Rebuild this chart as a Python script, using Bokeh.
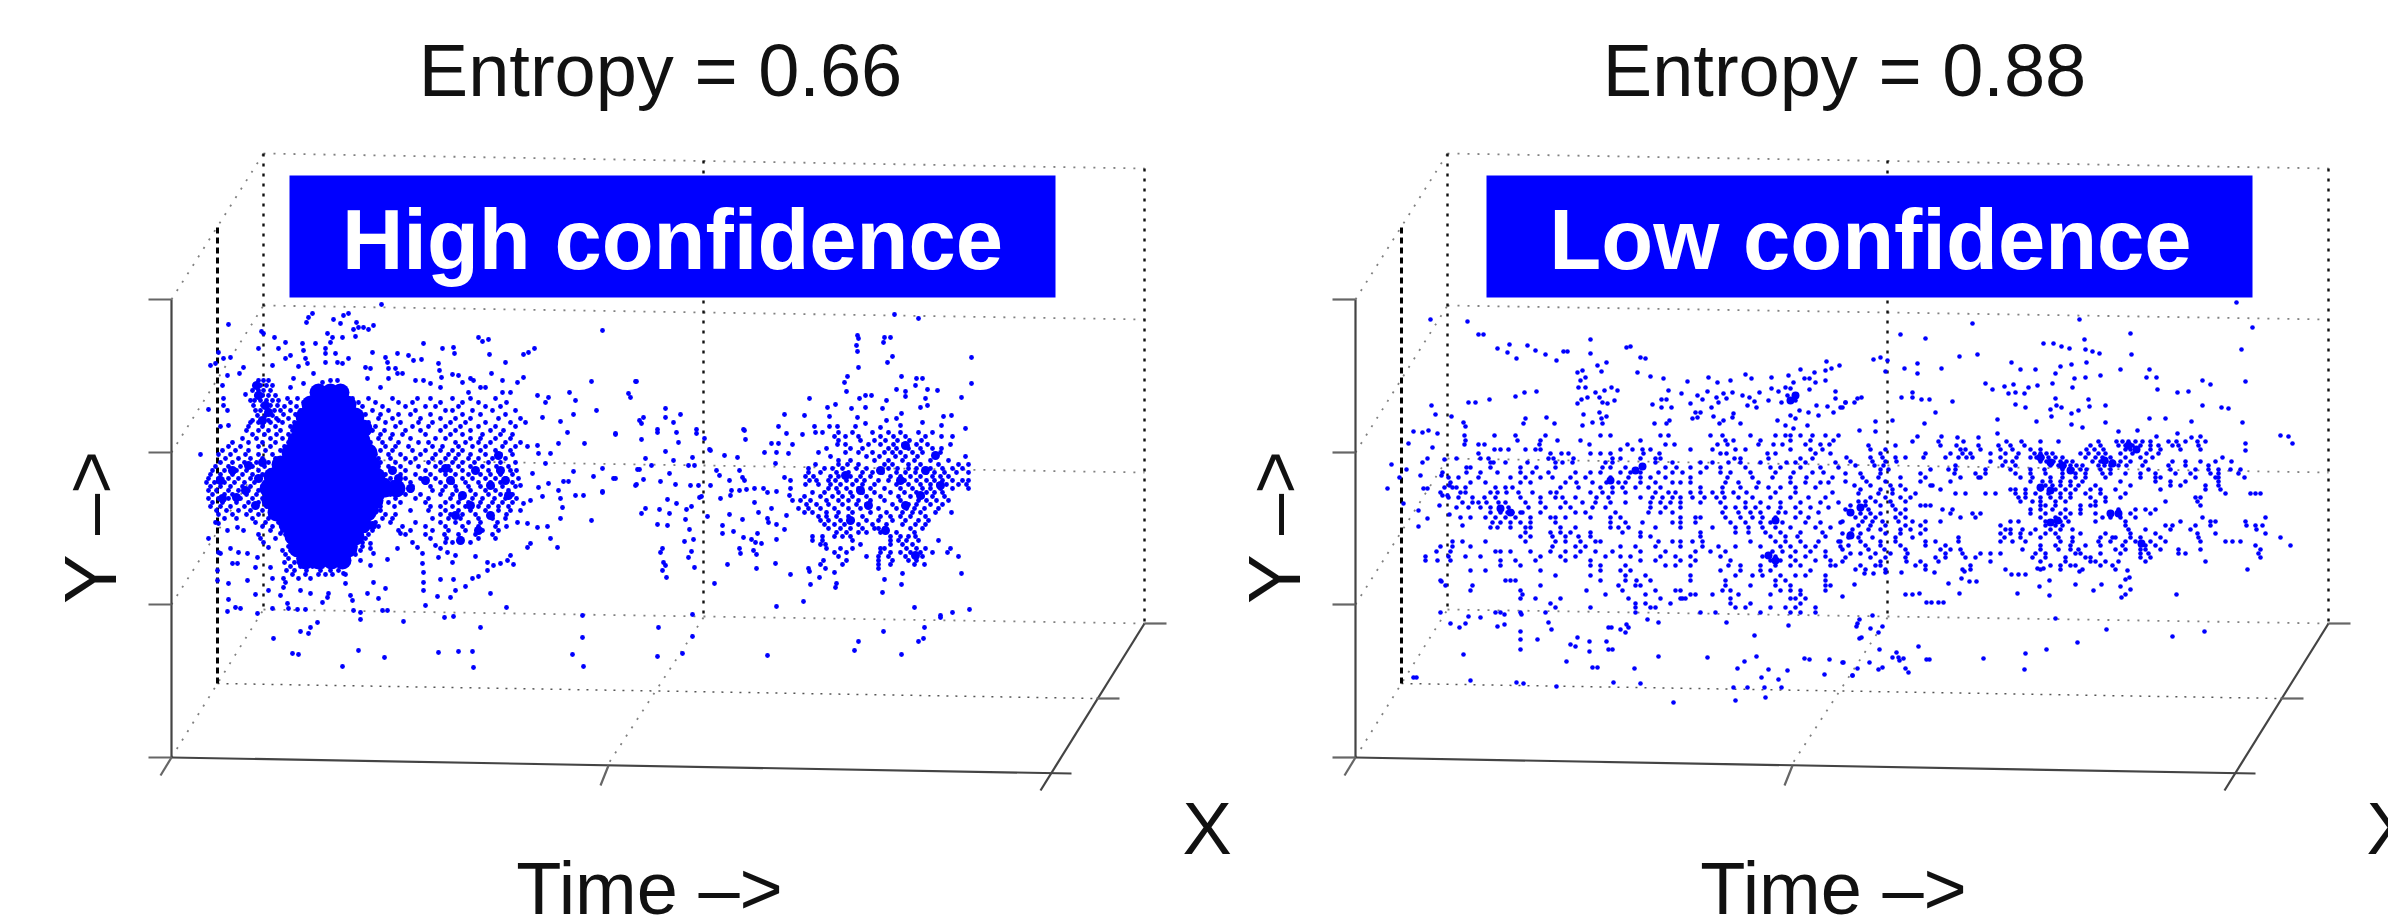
from bokeh.plotting import figure
from bokeh.models import Range1d
from bokeh.core.properties import value
from bokeh.embed import file_html
from bokeh.resources import INLINE
import math

titles = ["Entropy = 0.66", "Entropy = 0.88"]
banners = ["High confidence", "Low confidence"]

# points (picture units); (x, y) pairs
left_pairs = [(381,304),(312,313),(348,313),(343,315),(308,317),(333,319),(306,322),(356,322),(340,323),(228,324),(373,325),(358,327),(363,327),(353,329),(368,329),(602,330),(261,331),(263,333),(327,333),(355,336),(274,337),(332,337),(342,337),(478,337),(488,339),(482,341),(285,342),(302,343),(330,342),(315,343),(423,343),(453,347),(258,348),(278,348),(325,348),(442,348),(534,348),(303,350),(218,352),(372,352),(528,352),(290,355),(325,353),(335,353),(397,353),(454,353),(489,354),(523,354),(408,355),(230,357),(385,357),(223,358),(285,358),(305,358),(348,358),(421,359),(413,360),(325,362),(337,362),(387,362),(505,362),(215,363),(307,363),(342,363),(438,363),(210,365),(272,365),(298,366),(243,367),(365,367),(370,368),(388,368),(395,368),(439,370),(239,373),(313,373),(397,373),(402,373),(491,373),(452,374),(227,375),(458,375),(441,377),(293,378),(367,378),(388,378),(470,378),(523,377),(330,380),(337,380),(415,380),(423,380),(473,380),(502,380),(303,383),(430,383),(322,382),(462,382),(517,382),(290,387),(380,387),(440,387),(480,387),(485,387),(468,392),(502,392),(510,392),(537,395),(548,397),(545,402),(569,392),(575,400),(591,381),(635,381),(628,393),(630,397),(596,410),(573,414),(542,417),(560,421),(639,420),(222,385),(245,394),(223,398),(208,409),(223,405),(227,410),(228,425),(220,426),
(258,380),(263,380),(268,380),(255,385),(260,385),(266,385),(272,385),(252,390),(258,390),(263,390),(270,390),(256,395),(262,395),(268,395),(275,395),(250,400),(254,400),(260,400),(266,400),(272,400),(278,400),(253,405),(262,405),(270,405),(277,405),(255,410),(260,410),(268,410),(274,410),(257,415),(265,415),(272,415),(252,420),(260,420),(268,420),(278,420),
(208,538),(218,523),(227,530),(237,527),(243,530),(230,548),(238,552),(247,553),(257,557),(218,552),(220,553),(263,542),(268,547),(260,538),(280,533),(283,518),(232,563),(237,563),(255,567),(270,567),(217,570),(217,580),(228,583),(247,580),(272,578),(268,590),(255,594),(228,599),(235,607),(240,608),(227,611),(257,613),(272,608),(283,587),(280,595),(287,603),(300,590),(310,593),(328,593),(327,597),(345,583),(350,595),(322,602),(352,600),(288,608),(297,609),(305,609),(353,610),(360,612),(382,610),(387,610),(360,619),(403,621),(425,605),(444,617),(453,616),(480,627),(506,607),(317,622),(310,627),(300,631),(308,633),(273,638),(292,653),(298,654),(358,650),(384,657),(342,666),(438,652),(458,651),(472,651),(473,667),(572,654),(582,637),(583,666),(582,615),
(370,543),(373,553),(370,548),(387,559),(397,548),(400,533),(412,542),(417,547),(422,553),(422,563),(423,572),(423,582),(423,590),(437,596),(440,579),(453,579),(455,590),(450,597),(465,586),(490,593),(472,578),(478,576),(487,570),(493,565),(500,563),(507,560),(513,564),(510,555),(373,582),(367,593),(385,588),(378,598),(370,565),(360,560),(343,573),(435,545),(440,548),(447,552),(455,555),(438,557),(452,562),(475,556),(487,562),(527,547),(530,543),(550,538),(557,547),(537,527),(547,526),(527,523),(517,522),
(615,433),(584,443),(567,432),(558,443),(573,471),(593,476),(613,478),(602,492),(575,495),(583,495),(562,507),(560,518),(591,520),(560,498),(558,490),(563,481),(568,481),(548,483),(538,487),(532,473),(545,463),(537,445),(527,446),(550,453),(538,453),(520,485),(635,485),(637,469),(542,496),(530,500),(520,510),(523,503),
(636,381),(665,408),(680,414),(665,417),(643,417),(641,423),(673,422),(657,429),(696,429),(857,335),(858,338),(856,345),(857,351),(884,337),(890,337),(883,342),(892,356),(887,362),(858,367),(971,357),(901,376),(916,378),(922,378),(915,385),(847,376),(844,382),(846,391),(971,383),(927,389),(937,390),(896,389),(905,391),(905,396),(809,398),(961,397),(859,398),(865,395),(871,395),(886,400),(925,398),(827,407),(835,404),(851,408),(865,407),(882,408),(920,407),(927,405),(784,414),(804,415),(829,416),(857,417),(901,413),(943,416),(951,415),(886,420),(896,418),(922,422),(778,426),(814,426),(829,426),(837,426),(855,426),(865,423),(880,427),(900,425),(941,425),(965,428),(743,429),(894,314),(918,318),
(615,434),(641,439),(657,432),(676,432),(678,442),(696,433),(704,438),(710,450),(665,451),(645,458),(651,465),(639,469),(673,460),(688,465),(694,465),(692,457),(615,478),(602,468),(643,479),(636,484),(660,481),(669,473),(675,484),(690,485),(698,485),(710,485),(701,496),(699,497),(667,499),(676,503),(602,491),(645,508),(641,513),(659,509),(669,513),(686,509),(691,506),(685,519),(657,524),(667,525),(689,529),(684,541),(693,539),(662,548),(660,552),(691,551),(688,557),(663,562),(665,565),(662,570),(694,567),(666,577),(692,614),(658,627),(692,636),(657,656),(682,653),(767,655),
(709,449),(724,455),(737,457),(744,430),(745,439),(716,470),(719,475),(739,470),(742,477),(744,480),(729,480),(731,490),(730,495),(739,490),(746,489),(754,488),(763,488),(767,492),(776,491),(720,498),(707,516),(754,502),(729,514),(742,519),(758,512),(771,508),(767,518),(768,522),(776,524),(786,515),(722,525),(733,531),(722,533),(757,533),(743,537),(751,539),(755,542),(761,543),(776,539),(784,529),(739,548),(740,553),(753,550),(756,554),(727,564),(756,568),(775,563),(714,583),(776,606),(786,433),(764,452),(776,452),(771,443),(778,443),(792,444),(788,453),(775,463),(784,477),(790,480),(790,488),(789,495),(792,500),(802,434),
(790,574),(809,571),(819,577),(834,572),(810,584),(836,583),(835,587),(884,579),(902,573),(901,584),(882,592),(961,573),(803,601),(914,607),(969,609),(952,612),(940,615),(940,617),(924,627),(883,631),(858,641),(854,650),(923,638),(918,641),(901,654)]

# same points, grouped by row: (y, [x, ...])
left_rows = [
(398,[287,297,352,368,392,417,430,452,470,495]),(402,[290,303,358,375,398,412,440,462,478,506]),(406,[284,296,350,362,382,405,425,435,458,485,500]),(410,[280,290,300,355,372,388,415,445,452,472,492,515]),(414,[283,295,352,365,380,398,410,430,462,480,505]),(418,[276,288,298,360,378,392,420,440,455,470,498,520]),(422,[250,258,270,282,294,355,368,385,400,418,432,450,465,485,510,525]),(426,[248,262,275,290,300,362,375,395,412,428,445,460,478,495,515]),(430,[246,258,268,280,292,358,372,384,405,420,440,455,470,490,503]),(434,[252,264,276,288,362,380,392,402,425,450,462,482,500,512]),(438,[242,256,270,282,295,365,378,390,410,435,445,470,480,495,510]),(442,[232,248,262,275,288,370,382,398,418,428,455,465,478,490,505,520]),(446,[228,240,258,270,284,368,385,395,408,432,442,458,472,485,502,515]),(450,[222,235,248,265,280,372,380,392,412,425,440,452,462,480,495,510]),(454,[200,218,230,245,258,272,285,375,388,400,420,435,448,458,470,485,500,512]),(458,[225,238,250,262,275,282,378,390,405,415,432,445,455,468,478,492,505]),(462,[220,232,244,256,268,280,380,395,410,428,440,452,462,474,488,500,515]),(466,[215,228,240,252,264,275,285,378,388,400,418,435,448,458,470,482,496,508]),(470,[212,224,236,246,258,270,282,376,392,405,425,440,450,462,475,488,498,510,516]),(474,[210,220,232,242,252,262,272,284,385,400,415,430,445,455,468,480,490,500,512]),(478,[208,218,228,238,250,260,268,280,390,405,420,435,450,462,472,485,495,505,518]),(482,[206,214,224,234,244,254,264,276,288,392,410,425,440,452,465,478,490,500,512]),(486,[210,220,230,242,250,262,272,282,395,412,430,445,455,468,480,492,502,515]),(490,[208,216,228,238,248,258,270,280,398,410,432,442,456,470,485,495,508]),(494,[212,224,232,246,256,268,278,288,390,405,420,440,452,462,475,488,500,512]),(498,[208,218,228,240,252,262,274,285,395,415,428,450,460,472,482,494,505,516]),(502,[212,222,236,248,258,268,280,388,400,425,445,458,468,480,492,502,512]),(506,[210,220,230,244,256,266,278,290,380,394,430,440,452,465,478,488,498,508]),(510,[216,226,238,250,262,275,288,365,380,410,428,445,458,470,485,498,510]),(514,[218,232,246,258,272,285,362,372,385,395,440,450,462,475,490,506]),(518,[224,236,252,268,280,368,382,392,432,448,460,478,492,505]),(522,[215,255,265,278,290,362,375,390,415,440,455,468,480,497]),(526,[262,272,284,362,378,402,425,445,462,478,495,506]),(530,[270,282,295,365,372,398,410,432,448,465,482,498]),(534,[258,285,298,360,368,405,425,444,458,475,492]),(538,[275,290,300,355,365,430,446,460,478,495]),(542,[290,298,352,362,445,452,470]),(546,[288,294,302,345,355,362]),(550,[282,290,298,350,360]),(554,[285,296,305,345,355]),(558,[288,298,308,340,348]),(562,[284,294,304,316,328,338]),(566,[290,300,312,322,330]),(570,[286,294,306,320,330,338]),(574,[292,305,318,325,332,345]),(578,[283,298,310]),(582,[285]),
(432,[815,822,838,852,872,888,900,918,932]),(436,[834,845,858,880,893,905,925,941,952]),(440,[838,860,874,885,897,909,921]),(444,[837,845,868,880,893,903,916,927,950]),(448,[826,850,862,888,896,908,920,932,941]),(452,[818,845,858,872,884,892,900,912,922,940]),(456,[830,866,879,895,905,917,935,965]),(460,[838,850,874,888,902,914,930,948]),(464,[815,838,847,858,884,892,908,920,938,958,968]),(468,[808,824,832,842,856,866,888,897,908,916,930,942,952,962]),(472,[808,820,836,848,862,872,882,896,905,915,926,934,944,956,968]),(476,[805,813,830,838,850,860,870,890,900,910,920,932,940,948]),(480,[809,816,828,835,846,856,864,878,888,904,916,926,934,942,952,962,968]),(484,[805,818,830,840,852,862,874,896,908,920,930,938,946,958,966]),(488,[828,836,846,858,870,884,900,912,922,930,940,952,968]),(492,[812,824,838,850,862,874,890,904,916,926,934,942]),(496,[804,820,832,842,852,866,880,898,910,922,932,944]),(500,[800,810,826,838,848,858,870,884,900,918,926,936,948]),(504,[806,816,828,842,856,866,892,908,916,930,942]),(508,[798,808,820,834,848,860,878,896,906,914,924,938]),(512,[804,812,826,838,852,870,886,902,912,920,935,951]),(516,[818,826,836,848,862,880,890,900,910,925]),(520,[820,828,840,852,866,878,892,905,918,928]),(524,[824,834,844,858,872,886,902,915,925]),(528,[828,840,850,862,874,878,884,910,922]),(532,[836,846,858,866,880,896,914]),(536,[812,822,834,842,850,890,900,908,915]),(540,[812,822,852,890,898,906,918,938]),(544,[820,825,860,890,902,912]),(548,[826,840,852,880,884,906,916,925,950]),(552,[834,846,880,890,900,910,920,932,947]),(556,[838,866,878,888,905,914,922,958]),(560,[823,846,878,892,908,916]),(564,[820,842,878,890,914,924]),(568,[808,825,878]),
]

# the saturated mass of the left cloud, where the dots merge
left_mass_rows = [(392,[318,330,340]),(404,[310,322,335,347]),(416,[304,317,330,343,355]),(428,[300,313,326,339,352,363]),(440,[296,309,322,335,348,361]),(452,[290,303,316,329,342,355,368]),(464,[280,293,306,319,332,345,358,371]),(476,[272,285,298,311,324,337,350,363,376]),(488,[268,281,294,307,320,333,346,359,372,385,396]),(500,[270,283,296,309,322,335,348,361,374]),(512,[276,289,302,315,328,341,354,367]),(524,[287,300,313,326,339,352,362]),(536,[293,306,319,332,345,355]),(548,[297,310,323,336,348]),(560,[305,318,331,342])]

# thick clumps of merged dots around the mass and in the other clouds
left_clumps = [(220,480),(232,470),(245,490),(258,478),(268,495),(280,470),(275,505),(255,505),(236,497),(222,498),(285,490),(262,462),(248,465),(258,395),(265,405),(256,385),(268,412),(262,420),(385,482),(398,478),(410,488),(425,480),(380,495),(392,470),(450,480),(462,495),(475,470),(490,485),(505,480),(470,505),(455,515),(445,468),(500,470),(508,495),(490,515),(478,530),(460,540),(498,455),(362,455),(374,510),(372,525),(860,490),(880,470),(900,480),(925,470),(940,485),(905,505),(850,520),(935,455),(845,475),(868,505),(920,495),(905,445),(885,530),(915,555)]
right_clumps = [(2040,457),(2050,462),(2128,445),(2136,449),(2062,465),(2070,470),(2050,490),(2040,487),(2057,520),(2050,522),(2141,543),(2104,460),(2112,463),(1500,508),(1510,512),(1775,520),(1768,555),(1775,560),(1610,480),(1635,470),(1642,466),(1790,400),(1795,395),(2110,513),(2118,513),(1850,512),(1860,507),(1850,535)]

right_pairs = [(1430,319),(1467,321),(1478,334),(1483,334),(1497,348),(1509,344),(1507,352),(1516,358),(1527,345),(1535,350),(1545,354),(1556,360),(1563,351),(1567,351),(1590,339),(1590,353),(1626,347),(1630,346),(1640,357),(1645,358),(1637,372),(1650,376),(1663,378),(1597,365),(1601,371),(1606,362),(1577,372),(1582,370),(1580,380),(1578,387),(1585,387),(1585,377),(1577,403),(1587,397),(1581,399),(1595,392),(1604,390),(1611,387),(1617,390),(1599,397),(1602,402),(1607,403),(1614,400),(1583,414),(1592,422),(1601,418),(1606,416),(1602,423),(1599,412),(1582,425),(1524,392),(1536,391),(1515,396),(1489,399),(1468,402),(1475,402),(1431,405),(1435,414),(1451,416),(1463,422),(1465,426),(1525,418),(1523,423),(1546,417),(1554,423),
(1668,390),(1681,393),(1652,404),(1661,399),(1666,399),(1661,407),(1671,407),(1654,423),(1666,423),(1669,420),(1687,381),(1708,377),(1717,382),(1730,380),(1745,374),(1751,378),(1771,377),(1788,375),(1793,382),(1800,369),(1814,372),(1826,361),(1825,370),(1831,368),(1839,365),(1804,378),(1809,378),(1815,382),(1825,380),(1809,389),(1835,391),(1835,398),(1845,402),(1857,398),(1707,391),(1697,395),(1702,399),(1716,397),(1718,402),(1723,393),(1726,398),(1732,392),(1742,395),(1749,397),(1759,392),(1754,401),(1768,400),(1771,388),(1778,391),(1785,387),(1790,388),(1787,395),(1781,402),(1795,400),(1690,403),(1747,405),(1756,407),(1711,407),(1695,412),(1700,412),(1692,418),(1697,417),(1713,416),(1733,413),(1732,417),(1719,423),(1723,420),(1740,423),(1777,420),(1790,415),(1799,410),(1808,412),(1795,418),(1818,415),(1816,405),(1827,406),(1833,412),(1840,407),(1785,425),(1793,428),(1807,425),
(1413,431),(1422,432),(1428,430),(1437,433),(1408,443),(1432,447),(1391,464),(1406,469),(1399,477),(1387,488),(1427,458),(1444,459),(1422,462),(1420,475),(1423,488),(1427,488),(1441,475),(1449,485),(1444,487),(1442,495),(1447,495),(1403,503),(1439,505),(1418,510),(1427,518),(1418,526),(1449,514),(1460,517),(1462,525),
(1504,614),(1480,617),(1468,616),(1521,614),(1450,623),(1459,627),(1465,623),(1497,626),(1504,624),(1548,622),(1551,629),(1520,631),(1520,639),(1537,639),(1520,649),(1463,654),(1608,627),(1611,627),(1620,629),(1625,632),(1626,624),(1628,627),(1647,619),(1658,622),(1726,622),(1788,625),(1577,637),(1589,641),(1606,641),(1608,649),(1612,649),(1570,644),(1575,646),(1589,651),(1566,661),(1592,667),(1597,667),(1634,668),(1658,656),(1707,657),(1754,635),(1744,661),(1756,656),(1737,668),(1761,677),(1768,669),(1787,670),(1778,679),(1804,658),(1809,659),(1829,659),(1842,662),(1824,674),(1852,675),(1857,623),(1859,638),(1413,677),(1416,677),(1470,680),(1516,682),(1523,683),(1556,686),(1613,682),(1640,683),(1673,702),(1735,700),(1733,687),(1747,687),(1764,687),(1765,697),(1781,687),(1441,581),
(2236,302),(1972,323),(2079,319),(1900,334),(1925,338),(2043,343),(2053,343),(2061,346),(2069,348),(2084,339),(2130,333),(2252,327),(2241,349),(2085,349),(2092,351),(2099,353),(2131,354),(1959,356),(1977,354),(1873,359),(1880,357),(1887,360),(2011,362),(2086,362),(2060,366),(2071,364),(2020,369),(2035,369),(1904,368),(1917,363),(1917,373),(1941,368),(2120,369),(2149,369),(1885,371),(2055,373),(2074,378),(2085,377),(2100,375),(2146,377),(2156,377),(2202,380),(2210,384),(2245,381),(1985,383),(1992,389),(2004,386),(2013,384),(2028,387),(2037,385),(2052,383),(2072,387),(1912,392),(1901,397),(1912,397),(2157,389),(2177,392),(2188,391),(2008,393),(2015,392),(2024,393),(2055,398),(2088,399),(1861,397),(1854,402),(1921,399),(1929,399),(1952,401),(2015,404),(2025,407),(2056,405),(2050,409),(2061,407),(2089,406),(2105,405),(2202,405),(2221,407),(2228,408),(1842,407),(1845,402),(1935,412),(2071,413),(2078,410),(2051,416),(2149,418),(2165,418),(2191,421),(1892,420),(1875,421),(1924,423),(1997,419),(2036,421),(2071,424),(2082,427),(2105,422),(2242,422),
(1859,430),(1875,431),(1917,436),(1941,436),(1957,437),(1978,437),(1997,433),(2118,431),(2137,430),(2156,436),(2177,433),(2191,437),(2200,436),(2280,435),(2288,436),(2292,443),(2245,443),(2245,450),
(1864,573),(1873,573),(1885,572),(1901,572),(1934,572),(1964,571),(2011,574),(2018,574),(2025,574),(2037,568),(2043,568),(2079,571),(2127,570),(1961,578),(1969,581),(1976,581),(1948,583),(1854,584),(2049,580),(2039,586),(2075,584),(2101,584),(2120,586),(2125,579),(2129,577),(2093,590),(2130,589),(1959,593),(2017,593),(2049,595),(2125,594),(2121,597),(2176,594),(1905,594),(1912,594),(1919,593),(1926,602),(1931,602),(1938,602),(1943,602),(1842,596),
(1872,615),(1859,619),(1882,626),(1856,626),(1870,628),(1878,632),(1861,637),(2055,618),(2106,629),(2172,636),(2204,631),(2077,642),(2025,653),(2046,649),(2024,669),(1983,658),(1926,659),(1918,646),(1879,649),(1898,657),(1892,657),(1903,658),(1896,652),(1899,660),(1929,659),(1905,668),(1908,672),(1882,667),(1878,669),(1869,662),(1843,662),(1852,675),(1857,668)]

right_rows = [
(435,[1464,1494,1515,1545,1600,1610,1660,1668,1710,1722,1750,1775,1785,1790,1800,1812,1825,1838]),(440,[1465,1517,1540,1557,1640,1580,1725,1733,1760,1790,1810,1833]),(444,[1464,1478,1484,1539,1589,1627,1665,1674,1717,1727,1758,1773,1782,1805,1820,1829]),(449,[1494,1500,1508,1525,1535,1540,1620,1632,1642,1650,1690,1712,1735,1745,1790,1810,1822]),(453,[1478,1590,1550,1561,1568,1600,1610,1643,1659,1720,1726,1767,1775,1815,1830]),(458,[1456,1488,1480,1548,1553,1573,1620,1640,1612,1655,1660,1734,1740,1768,1800,1812]),(462,[1490,1493,1505,1527,1555,1562,1572,1605,1612,1655,1672,1700,1712,1728,1740,1760,1786,1795,1805,1835]),(467,[1466,1470,1490,1520,1536,1555,1602,1610,1625,1665,1676,1690,1706,1720,1745,1770,1780,1800,1820,1838]),(472,[1442,1466,1480,1497,1520,1532,1548,1575,1590,1600,1620,1630,1640,1658,1672,1682,1700,1720,1730,1750,1775,1793,1812,1823]),(477,[1448,1458,1478,1510,1525,1540,1552,1570,1585,1610,1628,1640,1650,1665,1690,1727,1752,1772,1790,1806,1832]),(482,[1450,1470,1485,1520,1530,1565,1576,1592,1606,1618,1625,1640,1655,1672,1680,1690,1725,1738,1758,1790,1805,1820,1828]),(487,[1452,1456,1465,1495,1505,1512,1560,1578,1600,1612,1622,1635,1648,1660,1700,1722,1740,1756,1768,1780,1795,1815]),(492,[1440,1460,1465,1490,1497,1506,1518,1532,1550,1556,1590,1602,1612,1625,1655,1668,1675,1690,1700,1712,1722,1733,1746,1775,1795,1832]),(497,[1448,1458,1472,1484,1495,1520,1540,1555,1562,1575,1596,1608,1640,1652,1662,1672,1680,1692,1704,1716,1724,1738,1752,1770,1790,1808,1825]),(502,[1462,1472,1478,1486,1498,1505,1525,1540,1565,1582,1595,1610,1625,1650,1660,1670,1680,1700,1720,1745,1760,1780,1800,1820,1838]),(507,[1456,1468,1480,1490,1500,1508,1528,1545,1560,1570,1592,1605,1650,1665,1680,1735,1725,1745,1755,1768,1780,1795,1810,1828]),(512,[1490,1500,1507,1512,1520,1522,1540,1575,1585,1615,1648,1660,1672,1722,1738,1750,1760,1778,1785,1800,1818]),(517,[1470,1485,1495,1505,1515,1550,1530,1555,1565,1590,1610,1620,1680,1695,1700,1725,1740,1752,1762,1775,1795,1808]),(522,[1492,1500,1510,1520,1530,1555,1610,1625,1642,1672,1680,1695,1730,1745,1760,1770,1782,1805,1820,1840]),(527,[1490,1497,1510,1525,1530,1560,1575,1610,1618,1628,1655,1680,1712,1735,1748,1762,1775,1790,1815,1830]),(532,[1525,1550,1560,1570,1590,1622,1640,1700,1735,1748,1765,1780,1800,1822]),(536,[1520,1530,1552,1565,1578,1590,1640,1650,1700,1770,1785,1797,1825]),(541,[1452,1462,1485,1525,1555,1565,1580,1600,1595,1658,1672,1680,1692,1702,1750,1775,1785,1800,1818,1838]),(546,[1440,1452,1470,1552,1575,1585,1620,1635,1655,1680,1702,1718,1735,1760,1780,1790,1805,1815,1840]),(551,[1436,1450,1495,1500,1510,1530,1550,1565,1580,1595,1612,1640,1665,1695,1710,1725,1772,1782,1795,1810,1825]),(556,[1425,1448,1465,1480,1540,1560,1575,1605,1620,1630,1660,1675,1690,1720,1762,1775,1790,1805,1825]),(560,[1425,1437,1450,1500,1515,1535,1565,1590,1640,1655,1680,1695,1730,1770,1780,1795,1815,1830]),(565,[1500,1520,1590,1600,1625,1665,1675,1690,1728,1740,1760,1775,1790,1800,1830,1835]),(570,[1470,1485,1540,1600,1620,1630,1720,1740,1760,1770,1810]),(575,[1555,1590,1625,1645,1690,1735,1752,1762,1780,1795,1805,1825]),(580,[1440,1505,1515,1510,1600,1625,1636,1650,1690,1725,1775,1785,1825]),(585,[1445,1472,1540,1618,1635,1640,1725,1750,1775,1790,1825,1830]),(590,[1470,1520,1586,1622,1655,1675,1680,1722,1730,1780,1825,1790,1800]),(594,[1522,1605,1645,1695,1690,1712,1738,1770,1800]),(598,[1520,1535,1560,1628,1660,1680,1682,1730,1685,1805,1790,1795]),(603,[1550,1635,1645,1670,1730,1750,1800]),(607,[1555,1590,1635,1650,1655,1770,1735,1745,1785,1795,1815]),(612,[1635,1545,1495,1500,1520,1700,1715,1760,1790,1800,1815,1440]),
(441,[1912,1938,1963,2006,2021,2040,2058,2098,2116,2122,2128,2135,2142,2150,2168,2176,2185,2197,2205]),(445,[1868,1895,1940,1956,1978,1998,2010,2024,2090,2100,2118,2125,2132,2140,2150,2158,2172,2178,2198]),(449,[1870,1885,1960,1965,1980,2000,2012,2030,2040,2086,2094,2103,2125,2130,2136,2150,2160,2180,2200]),(453,[1880,1925,1950,1962,1970,1990,2005,2018,2034,2040,2046,2052,2080,2088,2098,2105,2120,2132,2146,2158]),(457,[1846,1870,1882,1895,1905,1923,1945,1958,1966,1972,2000,2016,2030,2036,2042,2048,2055,2062,2085,2095,2102,2110,2125,2140,2152,2222]),(461,[1850,1872,1885,1896,1990,2005,2012,2040,2046,2053,2060,2066,2072,2092,2100,2106,2112,2120,2130,2145,2172,2185,2200,2215,2231]),(465,[1855,1874,1883,1955,2002,2015,2050,2058,2064,2070,2076,2082,2098,2104,2110,2118,2126,2142,2168,2185,2208]),(469,[1880,1888,1930,1948,1955,1985,2010,2030,2044,2062,2072,2080,2086,2100,2110,2148,2170,2195,2208,2218,2230,2240]),(473,[1845,1860,1880,1920,1954,1975,1985,2015,2030,2045,2062,2075,2085,2102,2110,2125,2140,2155,2175,2190,2210,2218,2238]),(477,[1862,1878,1900,1925,1960,1978,1980,2020,2032,2050,2062,2075,2085,2105,2140,2155,2160,2195,2215,2218,2244]),(481,[1845,1866,1885,1920,1950,2030,2042,2050,2060,2070,2082,2120,2155,2170,2185,2218]),(485,[1854,1870,1890,1900,1930,1932,2045,2052,2060,2070,2078,2095,2130,2170,2180,2205,2218]),(489,[1860,1880,1892,1905,1940,2010,2015,2025,2040,2055,2065,2075,2090,2100,2115,2160,2205,2220]),(493,[1858,1878,1892,1915,1955,1965,1985,1995,2015,2025,2035,2048,2060,2070,2085,2100,2125,2225,2250,2255,2260]),(497,[1870,1885,1900,1910,2018,2025,2040,2050,2060,2070,2090,2105,2120,2195,2200]),(501,[1858,1865,1875,1890,1905,2020,2032,2040,2055,2065,2095,2105,2165,2197]),(505,[1850,1865,1880,1892,1920,1925,1930,2040,2045,2055,2080,2090,2095,2200]),(509,[1845,1860,1868,1895,1905,1942,1952,2030,2040,2052,2065,2080,2118,2135,2145,2155]),(513,[1850,1860,1870,1880,1900,1950,1972,1980,2030,2045,2060,2070,2080,2095,2130,2150]),(517,[1855,1865,1875,1895,1905,1960,1975,2040,2055,2065,2102,2110,2120,2135,2202,2265]),(521,[1842,1862,1872,1882,1898,1912,1925,1940,2010,2018,2045,2052,2060,2068,2095,2125,2180,2210,2215,2245]),(525,[1858,1870,1885,1905,1920,2000,2045,2055,2062,2125,2165,2172,2195,2210,2255,2246,2262]),(529,[1852,1868,1880,1900,1910,1925,2005,2010,2022,2035,2050,2060,2072,2128,2145,2170,2190,2256]),(533,[1842,1850,1860,1885,1900,1920,2000,2010,2020,2030,2045,2055,2080,2105,2130,2155,2197,2215,2265]),(537,[1848,1858,1872,1895,1912,1958,2004,2020,2040,2058,2072,2100,2112,2115,2130,2140,2160,2198,2280]),(541,[1840,1860,1880,1895,1925,1935,1958,2000,2012,2025,2060,2072,2098,2110,2125,2135,2150,2165,2225,2200,2232,2240]),(545,[1848,1865,1880,1900,1925,1945,2040,2055,2070,2085,2100,2122,2140,2145,2155,2255,2290]),(549,[1842,1868,1884,1905,1940,1950,1960,2022,2040,2058,2070,2078,2115,2125,2140,2145,2160,2178,2200,2260]),(553,[1850,1860,1875,1890,1907,1945,1962,1980,1990,2000,2035,2045,2075,2080,2100,2120,2140,2148,2185,2178,2258]),(557,[1845,1870,1885,1905,1935,1945,1965,1975,2032,2045,2065,2085,2090,2140,2150,2260]),(561,[1842,1880,1906,1920,1938,1990,2040,2065,2090,2095,2105,2118,2145,2205]),(565,[1860,1875,1880,1915,1925,1970,2050,2060,2070,2075,2100,2112]),(569,[1855,1865,1885,1925,1962,1970,2005,2040,2060,2082,2115,2247]),
]

def flatten(pairs, rows):
    xs = [q[0] for q in pairs]
    ys = [q[1] for q in pairs]
    for y, row in rows:
        xs += row
        ys += [y] * len(row)
    return xs, ys

# 3-D box of the left panel, the right panel repeats it further along x
panel_shift = [0, 1184]
back_dotted = [([263, 1144], [153, 168]), ([263, 1144], [305, 319]), ([263, 1144], [458, 472]), ([263, 1144], [609, 623]),
               ([171, 263], [299, 153]), ([171, 263], [452, 305]), ([171, 263], [604, 458]), ([171, 263], [757, 609]),
               ([703, 608], [617, 763])]
floor_dotted = [([217, 1096], [683, 698])]
back_posts = [([263, 263], [153, 609]), ([703, 703], [160, 617]), ([1144, 1144], [168, 623])]
front_post = [([217, 217], [227, 683])]
frame_solid = [([171, 171], [299, 757]), ([171, 1071], [757, 773]), ([1144, 1040], [623, 790])]
tick_marks = [([148, 171], [299, 299]), ([148, 171], [452, 452]), ([148, 171], [604, 604]), ([148, 171], [757, 757]),
              ([1144, 1166], [623, 623]), ([1096, 1119], [698, 698]),
              ([171, 160], [757, 775]), ([608, 600], [765, 785])]

p = figure(width=2388, height=924, x_range=Range1d(0, 2388), y_range=Range1d(924, 0),
           x_axis_type=None, y_axis_type=None, toolbar_location=None, output_backend="svg",
           min_border=0, outline_line_color=None, background_fill_color="white")
p.grid.visible = False

def lines(groups, **kw):
    for dx in panel_shift:
        p.multi_line([[x + dx for x in g[0]] for g in groups], [g[1] for g in groups], **kw)

lines(back_dotted, line_color="#808080", line_width=1.8, line_dash="2 8")
lines(floor_dotted, line_color="#555555", line_width=1.5, line_dash="2 7")
lines(back_posts, line_color="#111111", line_width=2.4, line_dash="3 7")
lines(front_post, line_color="#000000", line_width=3, line_dash="6 4")
lines(frame_solid, line_color="#444444", line_width=2.2)
lines(tick_marks, line_color="#666666", line_width=2.2)

lx, ly = flatten(left_pairs, left_rows)
rx, ry = flatten(right_pairs, right_rows)
mx, my = flatten([], left_mass_rows)
p.scatter(mx, my, size=18, color="#0000ff", line_width=0)
p.scatter([q[0] for q in left_clumps], [q[1] for q in left_clumps], size=9, color="#0000ff", line_width=0)
p.scatter([q[0] for q in right_clumps], [q[1] for q in right_clumps], size=8, color="#0000ff", line_width=0)
p.scatter(lx, ly, size=4.8, color="#0000ff", line_width=0)
p.scatter(rx, ry, size=4.6, color="#0000ff", line_width=0)

p.quad(left=[289, 1486], right=[1055, 2252], top=[175, 175], bottom=[297, 297], color="#0000ff", line_width=0)

FONT = value("Liberation Sans")
p.text([672, 1870], [239, 239], text=banners, text_font=FONT, text_font_style="bold", text_font_size="85px",
       text_color="white", text_align="center", text_baseline="alphabetic")
common = dict(text_font=FONT, text_color="#111111", text_baseline="alphabetic", text_font_size="74px")
p.text([660, 1844], [70, 70], text=titles, text_align="center", **common)
p.text([649, 1833], [888, 888], text=["Time –>", "Time –>"], text_align="center", **common)
p.text([1182, 2366], [828, 828], text=["X", "X"], text_align="left", **common)
p.text([90, 1274], [526, 526], text=["Y –>", "Y –>"], angle=math.pi / 2, text_align="center", **common)

open("out.html", "w").write(file_html(p, INLINE))
